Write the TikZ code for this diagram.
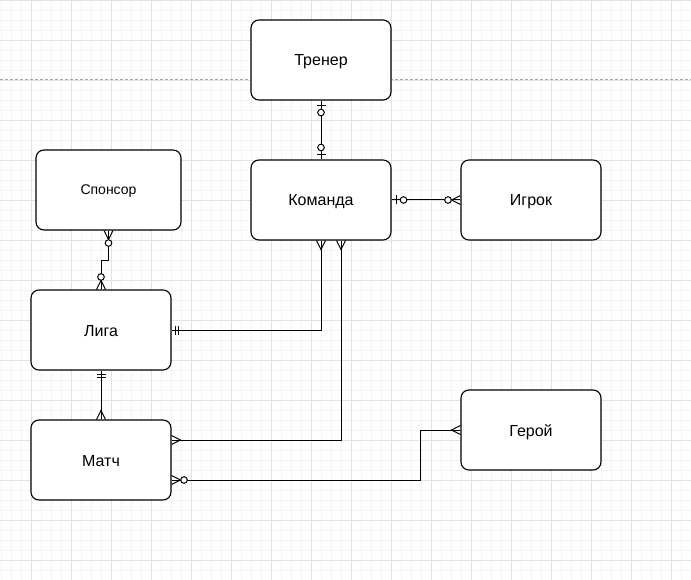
\documentclass[tikz,border=0pt]{standalone}
\usepackage{fontspec}
\setmainfont{Liberation Sans}
\usetikzlibrary{calc}
\definecolor{minorc}{HTML}{F3F3F3}
\definecolor{majorc}{HTML}{E2E2E2}
\tikzset{
  entity/.style={draw=black, line width=1.1pt, fill=white, rounded corners=8pt,
    minimum width=140pt, minimum height=80pt, inner sep=0pt,
    text height=12pt, text depth=0pt,
    font=\fontsize{16}{19}\selectfont},
  erline/.style={draw=black, line width=1pt},
  ercircle/.style={draw=black, line width=1pt, fill=white},
  manyend/.pic={\draw[erline] (0,4.5) -- (9,0) -- (0,-4.5);},
  zeromanyend/.pic={\draw[erline] (0,4.5) -- (9,0) -- (0,-4.5);
    \draw[ercircle] (12.5,0) circle[radius=3.3pt];},
  zerooneend/.pic={\draw[erline] (5,4.5) -- (5,-4.5);
    \draw[ercircle] (12,0) circle[radius=3.3pt];},
  mandoneend/.pic={\draw[erline] (4,4.5) -- (4,-4.5);
    \draw[erline] (7,4.5) -- (7,-4.5);},
}
\begin{document}
\begin{tikzpicture}[x=1pt, y=-1pt]
\useasboundingbox (0,0) rectangle (691,580);
\fill[white] (0,0) rectangle (691,580);
% grid
\foreach \gx in {1,11,...,681} \draw[minorc, line width=0.7pt] (\gx,0) -- (\gx,580);
\foreach \gy in {0,10,...,570} \draw[minorc, line width=0.7pt] (0,\gy) -- (691,\gy);
\foreach \gx in {31,71,...,671} \draw[majorc, line width=0.9pt] (\gx,0) -- (\gx,580);
\foreach \gy in {0,40,...,560} \draw[majorc, line width=0.9pt] (0,\gy) -- (691,\gy);
\draw[gray!70, line width=1pt, dash pattern=on 3pt off 2pt] (0,80) -- (691,80);

% entities
\node[entity] (trener) at (321,60) {Тренер};
\node[entity] (komanda) at (321,200) {Команда};
\node[entity] (igrok) at (531,200) {Игрок};
\node[entity, minimum width=145pt, text height=10pt, font=\fontsize{14}{17}\selectfont] (sponsor) at (108.5,190) {Спонсор};
\node[entity] (liga) at (101,330) {Лига};
\node[entity] (match) at (101,460) {Матч};
\node[entity] (geroi) at (531,430) {Герой};

% connectors
\draw[erline] (trener.south) -- (komanda.north);
\draw[erline] (komanda.east) -- (igrok.west);
\draw[erline] (komanda.south) |- (liga.east);
\draw[erline] ($(komanda.south)+(20,0)$) |- ($(match.east)+(0,-20)$);
\draw[erline] (geroi.west) -- ++(-40,0) |- ($(match.east)+(0,20)$);
\draw[erline] (liga.south) -- (match.north);
\draw[erline] (sponsor.south) -- ++(0,30) -| (liga.north);

% end markers
\pic[rotate=-90] at (trener.south) {zerooneend};
\pic[rotate=90] at (komanda.north) {zerooneend};
\pic[rotate=0] at (komanda.east) {zerooneend};
\pic[rotate=180] at (igrok.west) {zeromanyend};
\pic[rotate=-90] at (komanda.south) {manyend};
\pic[rotate=0] at (liga.east) {mandoneend};
\pic[rotate=-90] at ($(komanda.south)+(20,0)$) {manyend};
\pic[rotate=0] at ($(match.east)+(0,-20)$) {manyend};
\pic[rotate=180] at (geroi.west) {manyend};
\pic[rotate=0] at ($(match.east)+(0,20)$) {zeromanyend};
\pic[rotate=-90] at (liga.south) {mandoneend};
\pic[rotate=90] at (match.north) {manyend};
\pic[rotate=-90] at (sponsor.south) {zeromanyend};
\pic[rotate=90] at (liga.north) {zeromanyend};
\end{tikzpicture}
\end{document}
